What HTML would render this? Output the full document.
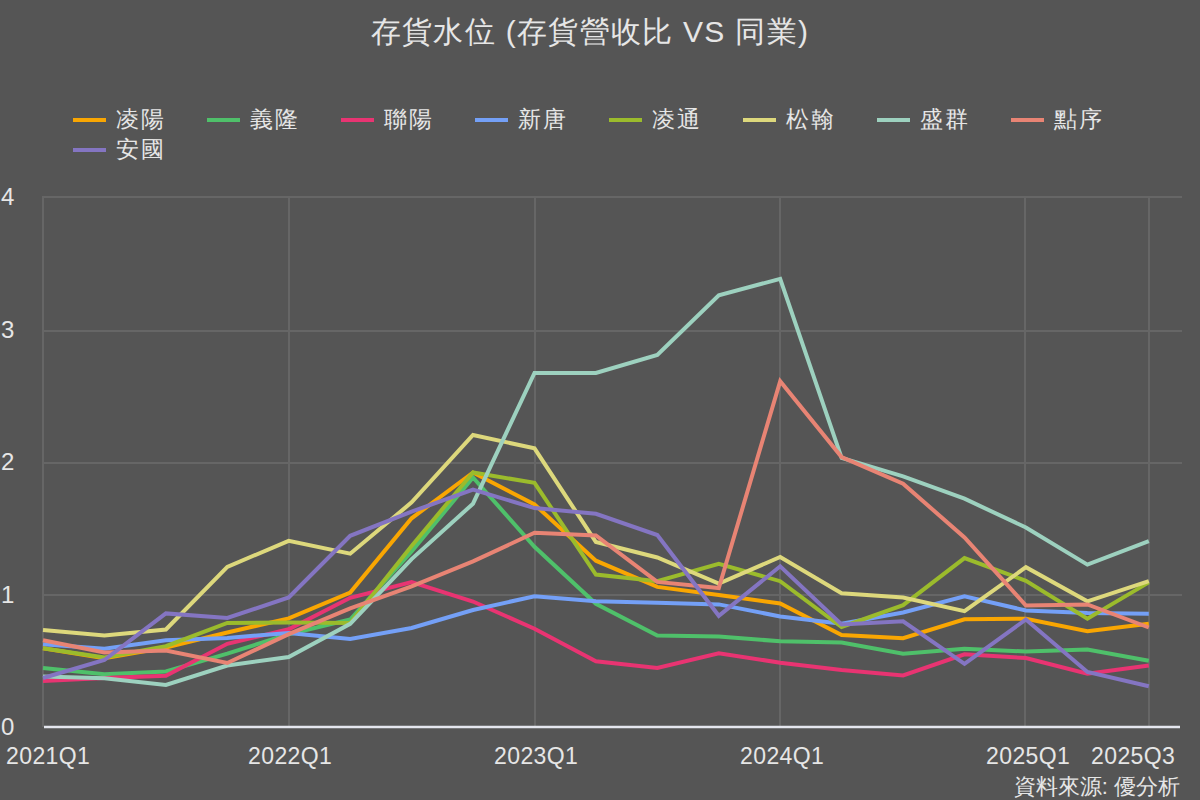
<!DOCTYPE html>
<html><head><meta charset="utf-8">
<style>
html,body{margin:0;padding:0;}
body{width:1200px;height:800px;background:#555555;position:relative;overflow:hidden;font-family:"Liberation Sans",sans-serif;color:#e6e6e6;}
svg{position:absolute;left:0;top:0;}
.title{position:absolute;left:0;width:1180px;top:14px;text-align:center;font-size:30px;line-height:36px;white-space:nowrap;letter-spacing:1.3px;}
.lg{position:absolute;width:33px;height:4px;}
.lt{position:absolute;font-size:23px;line-height:28px;white-space:nowrap;letter-spacing:2px;}
.yl{position:absolute;left:1px;font-size:24px;line-height:28px;}
.xl{position:absolute;top:742px;font-size:23px;line-height:28px;white-space:nowrap;letter-spacing:0.4px;}
.src{position:absolute;right:20px;top:773px;font-size:22px;line-height:28px;white-space:nowrap;}
</style></head><body>
<svg width="1200" height="800" viewBox="0 0 1200 800">
<line x1="42" y1="197.0" x2="1182" y2="197.0" stroke="#666666" stroke-width="2"/>
<line x1="42" y1="331.0" x2="1182" y2="331.0" stroke="#666666" stroke-width="2"/>
<line x1="42" y1="463.0" x2="1182" y2="463.0" stroke="#666666" stroke-width="2"/>
<line x1="42" y1="595.0" x2="1182" y2="595.0" stroke="#666666" stroke-width="2"/>
<line x1="43.0" y1="196" x2="43.0" y2="727" stroke="#666666" stroke-width="2"/>
<line x1="289.0" y1="196" x2="289.0" y2="727" stroke="#666666" stroke-width="2"/>
<line x1="535.0" y1="196" x2="535.0" y2="727" stroke="#666666" stroke-width="2"/>
<line x1="780.0" y1="196" x2="780.0" y2="727" stroke="#666666" stroke-width="2"/>
<line x1="1025.0" y1="196" x2="1025.0" y2="727" stroke="#666666" stroke-width="2"/>
<line x1="1149.0" y1="196" x2="1149.0" y2="727" stroke="#666666" stroke-width="2"/>
<line x1="44" y1="727" x2="1180" y2="727" stroke="#e4e6ee" stroke-width="2.5"/>
<polyline points="43.0,648.2 104.4,658.1 165.9,647.5 227.3,632.5 288.7,618.4 350.2,592.5 411.6,518.3 473.0,472.5 534.5,504.4 595.9,560.7 657.3,586.9 718.8,595.0 780.2,603.5 841.6,635.0 903.1,638.2 964.5,619.3 1025.9,618.7 1087.4,631.2 1148.8,623.8" fill="none" stroke="#f9a602" stroke-width="4" stroke-linejoin="miter" stroke-miterlimit="10"/>
<polyline points="43.0,668.0 104.4,674.3 165.9,671.4 227.3,653.7 288.7,634.2 350.2,619.5 411.6,551.4 473.0,477.5 534.5,546.8 595.9,603.8 657.3,635.6 718.8,636.5 780.2,641.3 841.6,642.5 903.1,653.7 964.5,648.8 1025.9,651.5 1087.4,649.5 1148.8,660.8" fill="none" stroke="#4fc06a" stroke-width="4" stroke-linejoin="miter" stroke-miterlimit="10"/>
<polyline points="43.0,680.9 104.4,678.0 165.9,675.7 227.3,643.8 288.7,629.3 350.2,597.8 411.6,582.0 473.0,601.5 534.5,628.7 595.9,661.3 657.3,668.0 718.8,653.2 780.2,662.7 841.6,670.0 903.1,675.5 964.5,654.3 1025.9,658.0 1087.4,673.7 1148.8,665.5" fill="none" stroke="#e83472" stroke-width="4" stroke-linejoin="miter" stroke-miterlimit="10"/>
<polyline points="43.0,644.3 104.4,648.8 165.9,640.2 227.3,638.0 288.7,632.9 350.2,638.9 411.6,628.0 473.0,610.0 534.5,596.2 595.9,601.3 657.3,602.7 718.8,604.4 780.2,616.4 841.6,623.8 903.1,612.5 964.5,596.2 1025.9,610.5 1087.4,613.0 1148.8,613.7" fill="none" stroke="#74a0f7" stroke-width="4" stroke-linejoin="miter" stroke-miterlimit="10"/>
<polyline points="43.0,648.2 104.4,657.4 165.9,646.2 227.3,623.0 288.7,622.5 350.2,623.0 411.6,545.9 473.0,472.5 534.5,482.8 595.9,574.5 657.3,581.2 718.8,563.8 780.2,581.2 841.6,627.0 903.1,605.1 964.5,558.1 1025.9,580.9 1087.4,618.7 1148.8,582.4" fill="none" stroke="#9bbb2c" stroke-width="4" stroke-linejoin="miter" stroke-miterlimit="10"/>
<polyline points="43.0,629.9 104.4,635.6 165.9,629.5 227.3,566.9 288.7,540.8 350.2,553.7 411.6,502.4 473.0,435.0 534.5,448.4 595.9,542.0 657.3,557.5 718.8,583.6 780.2,557.0 841.6,593.2 903.1,597.5 964.5,611.2 1025.9,567.2 1087.4,601.3 1148.8,581.2" fill="none" stroke="#ddd87c" stroke-width="4" stroke-linejoin="miter" stroke-miterlimit="10"/>
<polyline points="43.0,676.4 104.4,678.2 165.9,685.0 227.3,665.5 288.7,657.0 350.2,623.8 411.6,559.1 473.0,503.7 534.5,373.0 595.9,373.0 657.3,354.9 718.8,295.4 780.2,278.8 841.6,458.0 903.1,476.3 964.5,498.7 1025.9,527.5 1087.4,564.6 1148.8,541.2" fill="none" stroke="#9dd1bf" stroke-width="4" stroke-linejoin="miter" stroke-miterlimit="10"/>
<polyline points="43.0,640.3 104.4,652.5 165.9,650.5 227.3,663.0 288.7,634.2 350.2,608.4 411.6,586.3 473.0,561.4 534.5,532.8 595.9,535.5 657.3,581.9 718.8,588.0 780.2,381.3 841.6,457.0 903.1,483.7 964.5,537.5 1025.9,605.5 1087.4,604.4 1148.8,627.5" fill="none" stroke="#e88474" stroke-width="4" stroke-linejoin="miter" stroke-miterlimit="10"/>
<polyline points="43.0,678.0 104.4,660.0 165.9,613.4 227.3,618.0 288.7,597.5 350.2,535.8 411.6,511.6 473.0,489.6 534.5,508.1 595.9,513.8 657.3,535.0 718.8,615.8 780.2,566.3 841.6,624.4 903.1,621.3 964.5,663.8 1025.9,619.5 1087.4,672.0 1148.8,686.3" fill="none" stroke="#8475c2" stroke-width="4" stroke-linejoin="miter" stroke-miterlimit="10"/>
</svg>
<div class="title">存貨水位 (存貨營收比 VS 同業)</div>
<div class="lg" style="left:73px;top:118px;background:#f9a602"></div>
<div class="lt" style="left:116px;top:105px">凌陽</div>
<div class="lg" style="left:207px;top:118px;background:#4fc06a"></div>
<div class="lt" style="left:250px;top:105px">義隆</div>
<div class="lg" style="left:341px;top:118px;background:#e83472"></div>
<div class="lt" style="left:384px;top:105px">聯陽</div>
<div class="lg" style="left:475px;top:118px;background:#74a0f7"></div>
<div class="lt" style="left:518px;top:105px">新唐</div>
<div class="lg" style="left:609px;top:118px;background:#9bbb2c"></div>
<div class="lt" style="left:652px;top:105px">凌通</div>
<div class="lg" style="left:743px;top:118px;background:#ddd87c"></div>
<div class="lt" style="left:786px;top:105px">松翰</div>
<div class="lg" style="left:877px;top:118px;background:#9dd1bf"></div>
<div class="lt" style="left:920px;top:105px">盛群</div>
<div class="lg" style="left:1011px;top:118px;background:#e88474"></div>
<div class="lt" style="left:1054px;top:105px">點序</div>
<div class="lg" style="left:73px;top:148px;background:#8475c2"></div>
<div class="lt" style="left:116px;top:135px">安國</div>
<div class="yl" style="top:713.0px">0</div>
<div class="yl" style="top:580.5px">1</div>
<div class="yl" style="top:448.0px">2</div>
<div class="yl" style="top:315.5px">3</div>
<div class="yl" style="top:183.0px">4</div>
<div class="xl" style="left:6px">2021Q1</div><div class="xl" style="left:248px">2022Q1</div><div class="xl" style="left:494px">2023Q1</div><div class="xl" style="left:740px">2024Q1</div><div class="xl" style="left:986px">2025Q1</div><div class="xl" style="left:1091px">2025Q3</div>
<div class="src">資料來源: 優分析</div>
</body></html>
